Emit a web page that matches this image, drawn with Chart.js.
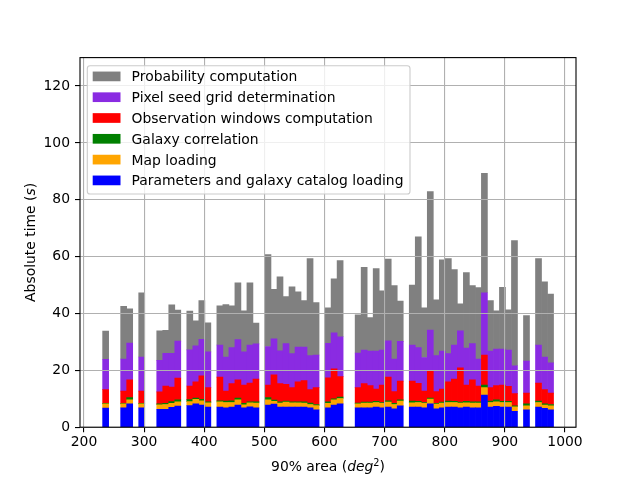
<!DOCTYPE html>
<html><head><meta charset="utf-8">
<script src="https://cdn.jsdelivr.net/npm/chart.js@4.4.0/dist/chart.umd.min.js"></script>
<style>html,body{margin:0;padding:0;background:#fff;}canvas{display:block;}</style>
</head><body>
<canvas id="c" width="640" height="480"></canvas>
<script>
const binCenters = [236,246,256,266,276,286,296,306,316,326,336,346,356,366,376,386,396,406,416,426,436,446,456,466,476,486,496,506,516,526,536,546,556,566,576,586,596,606,616,626,636,646,656,666,676,686,696,706,716,726,736,746,756,766,776,786,796,806,816,826,836,846,856,866,876,886,896,906,916,926,936,946,956,966,976];

const paramLoading = [6.7,null,null,6.8,8.2,null,6.8,null,null,6.3,
  6.3,7.0,7.4,null,7.6,8.2,7.8,7.1,null,7.1,
  6.8,7.1,7.8,6.8,7.2,6.8,null,7.8,8.1,7.1,
  7.1,7.1,7.1,7.1,6.8,6.1,null,6.8,7.8,8.2,
  null,null,6.8,6.8,6.8,7.1,6.8,7.1,6.5,7.5,
  null,7.1,7.1,6.8,8.2,6.5,6.8,7.1,7.1,6.8,
  7.1,6.8,6.8,11.3,7.1,7.3,7.1,7.1,5.6,null,
  6.1,null,7.1,6.6,6.1];
const mapLoading = [1.5,null,null,1.4,1.4,null,1.4,null,null,1.6,
  1.7,1.4,1.5,null,1.4,1.6,1.5,1.5,null,1.8,
  1.9,1.6,1.8,1.1,1.4,1.7,null,1.8,1.0,1.4,
  1.7,1.5,1.5,1.4,1.2,1.5,null,1.6,1.8,1.9,
  null,null,1.4,1.7,1.7,1.6,1.6,1.7,1.5,1.7,
  null,1.5,1.6,1.6,1.7,1.6,1.7,1.6,1.6,1.7,
  1.5,1.7,1.7,2.6,1.6,1.6,1.6,1.6,1.6,null,
  1.4,null,1.6,1.2,1.4];
const galaxyCorr = [0.2,null,null,0.2,0.8,null,0.2,null,null,0.3,
  0.4,0.6,0.7,null,0.7,0.4,0.5,0.3,null,0.4,
  0.5,0.6,0.6,0.5,0.3,0.4,null,0.8,0.4,0.4,
  0.4,0.3,0.3,0.4,0.5,0.4,null,0.5,0.4,0.5,
  null,null,0.3,0.3,0.3,0.4,0.3,0.5,0.4,0.4,
  null,0.6,0.4,0.3,0.3,0.3,0.3,0.5,0.4,0.3,
  0.5,0.4,0.4,0.9,0.5,0.7,0.4,0.4,0.3,null,
  0.7,null,0.5,0.4,0.5];
const obsWindows = [4.8,null,null,4.3,6.3,null,4.3,null,null,4.2,
  6.1,5.1,7.7,null,4.8,5.8,8.3,5.0,null,8.3,
  3.5,6.0,6.5,6.4,6.6,8.0,null,4.4,8.9,6.4,
  5.9,5.0,7.1,7.5,4.7,5.9,null,8.5,10.5,7.2,
  null,null,5.4,6.5,5.8,4.3,6.1,8.3,4.1,6.6,
  null,7.0,6.3,4.0,9.6,4.1,4.6,6.8,7.8,12.1,
  5.7,7.8,5.6,10.6,4.7,5.0,5.7,5.3,4.3,null,
  3.8,null,6.3,5.0,4.0];
const pixelSeed = [10.7,null,null,11.3,12.9,null,12.0,null,null,11.1,
  11.5,11.9,13.0,null,12.7,12.6,12.8,12.6,null,11.3,
  12.0,12.7,14.1,11.7,13.4,12.4,null,13.6,12.7,11.6,
  14.3,12.0,12.2,11.8,12.0,11.5,null,12.1,12.7,14.0,
  null,null,12.2,11.8,12.2,13.4,12.3,12.8,11.5,14.0,
  null,12.7,12.6,11.8,14.4,12.7,13.4,9.9,12.0,13.0,
  13.0,12.7,9.5,21.9,12.9,12.9,12.7,12.7,9.8,null,
  11.3,null,13.4,11.5,10.6];
const probComp = [9.9,null,null,18.5,12.0,null,22.6,null,null,10.4,
  8.1,17.0,10.9,null,13.6,8.8,13.6,10.2,null,13.8,
  18.4,14.7,20.0,14.4,21.9,7.3,null,32.3,17.4,26.0,
  16.5,23.5,19.4,16.3,34.1,18.4,null,12.5,19.0,26.8,
  null,null,13.4,29.1,11.8,29.0,20.9,28.7,25.8,14.2,
  null,21.1,39.0,17.5,48.7,19.6,32.1,33.4,26.5,9.5,
  26.6,20.4,25.1,42.0,17.7,13.4,21.7,14.2,44.0,null,
  16.0,null,30.4,26.4,24.2];

const xTicks = [200,300,400,500,600,700,800,900,1000];
const yTicks = [0,20,40,60,80,100,120];

const FS = 13.9;
const FAM = '"DejaVu Sans"';
const F = FS + 'px ' + FAM;
const FI = 'italic ' + FS + 'px ' + FAM;

function ds(label, data, color) {
  return {label, data, backgroundColor: color, borderWidth: 0,
          barPercentage: 1, categoryPercentage: 1};
}
const datasets = [
  ds('Parameters and galaxy catalog loading', paramLoading, '#0000ff'),
  ds('Map loading', mapLoading, '#ffa500'),
  ds('Galaxy correlation', galaxyCorr, '#008000'),
  ds('Observation windows computation', obsWindows, '#ff0000'),
  ds('Pixel seed grid determination', pixelSeed, '#8a2be2'),
  ds('Probability computation', probComp, '#808080')
];

function drawRuns(ctx, runs, x, y) {
  let total = 0;
  runs.forEach(r => { ctx.font = r.font; r.w = ctx.measureText(r.text).width; total += r.w; });
  let cx = x - total / 2;
  runs.forEach(r => { ctx.font = r.font; ctx.fillText(r.text, cx, y + (r.dy || 0)); cx += r.w; });
}

const overlay = {
  id: 'overlay',
  afterDraw(chart) {
    const ctx = chart.ctx, a = chart.chartArea;
    ctx.save();
    ctx.strokeStyle = '#000';
    ctx.lineWidth = 1.1;
    ctx.strokeRect(a.left, a.top, a.right - a.left, a.bottom - a.top);

    ctx.fillStyle = '#000';
    ctx.textBaseline = 'alphabetic';
    ctx.textAlign = 'left';
    const sup = (FS * 0.7).toFixed(2) + 'px ' + FAM;
    drawRuns(ctx, [
      {text: '90% area (', font: F},
      {text: 'deg', font: FI},
      {text: '2', font: sup, dy: -5.5},
      {text: ')', font: F}
    ], (a.left + a.right) / 2, 471);

    ctx.save();
    ctx.translate(35, (a.top + a.bottom) / 2);
    ctx.rotate(-Math.PI / 2);
    drawRuns(ctx, [
      {text: 'Absolute time (', font: F},
      {text: 's', font: FI},
      {text: ')', font: F}
    ], 0, 0);
    ctx.restore();

    // legend
    const items = chart.data.datasets.slice().reverse();
    ctx.font = F;
    const maxW = Math.max(...items.map(d => ctx.measureText(d.label).width));
    const lx = 87.3, ly = 65.7, textX = 131.6;
    const lw = textX + maxW + 6.5 - lx, lh = 128.3, r = 2.8;
    ctx.beginPath();
    ctx.moveTo(lx + r, ly);
    ctx.arcTo(lx + lw, ly, lx + lw, ly + lh, r);
    ctx.arcTo(lx + lw, ly + lh, lx, ly + lh, r);
    ctx.arcTo(lx, ly + lh, lx, ly, r);
    ctx.arcTo(lx, ly, lx + lw, ly, r);
    ctx.closePath();
    ctx.fillStyle = 'rgba(255,255,255,0.8)';
    ctx.fill();
    ctx.strokeStyle = '#cccccc';
    ctx.lineWidth = 1.1;
    ctx.stroke();
    items.forEach((d, i) => {
      const cy = 76.4 + 20.8 * i;
      ctx.fillStyle = d.backgroundColor;
      ctx.fillRect(92.7, cy - 4.85, 27.8, 9.7);
      ctx.fillStyle = '#000';
      ctx.font = F;
      ctx.fillText(d.label, textX, cy + 5);
    });
    ctx.restore();
  }
};

new Chart(document.getElementById('c'), {
  type: 'bar',
  data: {labels: binCenters, datasets},
  options: {
    responsive: false,
    animation: false,
    devicePixelRatio: 1,
    layout: {padding: {left: 0, right: 64, top: 57.6, bottom: 0}},
    plugins: {legend: {display: false}, tooltip: {enabled: false}},
    scales: {
      x: {
        type: 'linear', stacked: true, min: 193.35, max: 1018.35, offset: false,
        grid: {offset: false, color: '#b0b0b0', lineWidth: 1.1, tickColor: '#000', tickLength: 5, tickWidth: 1.1, z: 1},
        border: {display: false},
        ticks: {color: '#000', padding: 1.5, font: {size: FS, family: 'DejaVu Sans'}, maxRotation: 0, autoSkip: false,
                callback: v => String(v)},
        afterBuildTicks: s => { s.ticks = xTicks.map(v => ({value: v})); },
        afterFit: s => { s.height = 52.8; s.paddingLeft = 0; s.paddingRight = 0; }
      },
      y: {
        stacked: true, min: 0, max: 130,
        grid: {offset: false, color: '#b0b0b0', lineWidth: 1.1, tickColor: '#000', tickLength: 5, tickWidth: 1.1, z: 1},
        border: {display: false},
        ticks: {color: '#000', padding: 5, font: {size: FS, family: 'DejaVu Sans'}, callback: v => String(v)},
        afterBuildTicks: s => { s.ticks = yTicks.map(v => ({value: v})); },
        afterFit: s => { s.width = 80; s.paddingTop = 0; s.paddingBottom = 0; }
      }
    }
  },
  plugins: [overlay]
});
</script>
</body></html>
